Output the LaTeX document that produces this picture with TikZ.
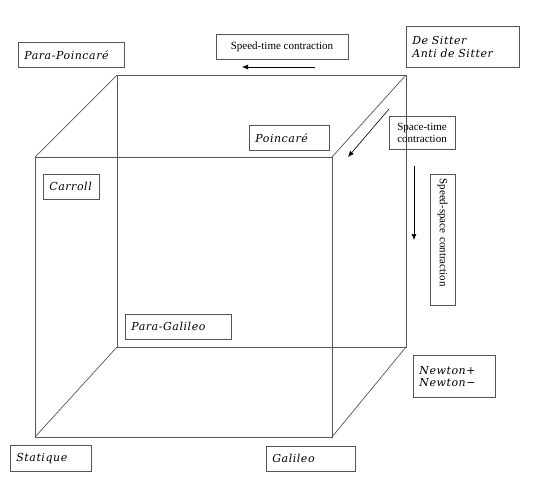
\documentclass[tikz,border=0pt]{standalone}
\usepackage{fontspec}
\setmainfont{Latin Modern Roman}
\newfontfamily\timesf{Liberation Serif}
\newfontfamily\calf{DejaVu Serif}[LetterSpace=5]
\usetikzlibrary{arrows.meta}
\definecolor{edge}{HTML}{555555}
\tikzset{
  cube/.style={draw=edge, line width=0.7pt},
  lbl/.style={draw=edge, line width=0.7pt, anchor=north west, inner xsep=6pt, inner ysep=2pt,
    align=left, font=\calf\itshape\fontsize{11}{12.5}\selectfont},
  note/.style={draw=edge, line width=0.7pt, inner sep=2pt, align=center,
    font=\timesf\fontsize{11}{12}\selectfont},
  arr/.style={draw=black, line width=0.6pt, -{Latex[length=6pt,width=5pt]}}
}
\begin{document}
\begin{tikzpicture}[x=1pt,y=-1pt]
\useasboundingbox (0,0) rectangle (540,485);
% cube corners
\coordinate (f1) at (35,157);
\coordinate (f2) at (332,157);
\coordinate (f3) at (332,437);
\coordinate (f4) at (35,437);
\coordinate (b1) at (117,75);
\coordinate (b2) at (406,75);
\coordinate (b3) at (406,347);
\coordinate (b4) at (117,347);
\draw[cube] (f1) -- (f2) -- (f3) -- (f4) -- cycle;
\draw[cube] (b1) -- (b2) -- (b3) -- (b4) -- cycle;
\draw[cube] (f1) -- (b1);
\draw[cube] (f2) -- (b2);
\draw[cube] (f3) -- (b3);
\draw[cube] (f4) -- (b4);
% labels
\node[lbl, text width=94pt, minimum height=25pt] (pp) at (18,42) {Para-Poincaré};
\node[lbl, text width=101pt, minimum height=41pt] (ds) at (406,26) {De Sitter\\Anti de Sitter};
\node[lbl, text width=68pt, minimum height=25pt] (po) at (249,125) {Poincaré};
\node[lbl, text width=44pt, minimum height=25pt] (ca) at (43,174) {Carroll};
\node[lbl, text width=94pt, minimum height=25pt] (pg) at (125,314) {Para-Galileo};
\node[lbl, text width=70pt, minimum height=42pt] (ne) at (413,355) {Newton+\\Newton−};
\node[lbl, text width=69pt, minimum height=26pt] (st) at (10,445) {Statique};
\node[lbl, text width=77pt, minimum height=25pt] (ga) at (266,446) {Galileo};
% contraction notes
\node[note, minimum width=132pt, minimum height=25pt] (stc) at (282,46.5) {Speed-time contraction};
\node[note, minimum width=66pt, minimum height=33pt] (spt) at (422,132.5) {Space-time\\contraction};
\node[note, rotate=-90, inner xsep=4pt, text width=123pt, align=left, minimum height=25pt] (ssc) at (442.5,240) {Speed-space contraction};
% arrows
\coordinate (a1s) at (315,67);
\coordinate (a1e) at (242,67);
\coordinate (a2s) at (389,109);
\coordinate (a2e) at (348,157);
\coordinate (a3s) at (414,166);
\coordinate (a3e) at (414,240);
\draw[arr] (a1s) -- (a1e);
\draw[arr] (a2s) -- (a2e);
\draw[arr] (a3s) -- (a3e);
\end{tikzpicture}
\end{document}
